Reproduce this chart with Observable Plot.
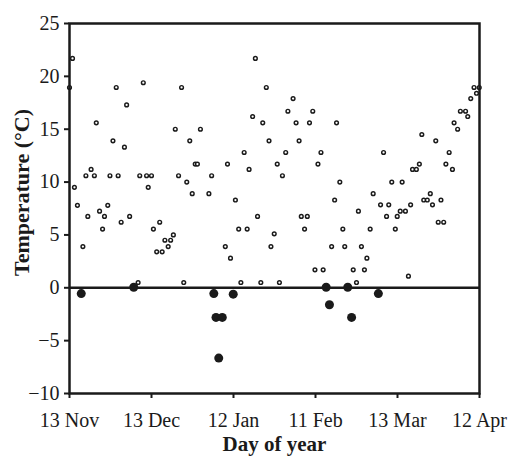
<!DOCTYPE html>
<html>
<head>
<meta charset="utf-8">
<script src="https://cdn.jsdelivr.net/npm/d3@7"></script>
<script src="https://cdn.jsdelivr.net/npm/@observablehq/plot@0.6"></script>
<style>
  html, body { margin: 0; padding: 0; background: white; }
  #chart svg { display: block; }
</style>
</head>
<body>
<div id="chart"></div>
<script>
// Day offsets from 13 Nov (day 0) to 12 Apr (day 150)
const xTickDays = [0, 30, 60, 90, 120, 150];
const xTickLabels = ["13 Nov", "13 Dec", "12 Jan", "11 Feb", "13 Mar", "12 Apr"];
const yTicks = [-10, -5, 0, 5, 10, 15, 20, 25];
const yTickLabels = ["\u221210", "\u22125", "0", "5", "10", "15", "20", "25"];

// Open circles: daily temperatures
const openDays = [
  1.1, 0, 17.1, 27, 20.9, 41, 9.8, 38.7, 47.9, 15.9, 20.1, 44,
  68, 72, 81.8, 79.9, 89, 67, 70.7, 82.9, 87.8, 97.7, 73, 84, 63.9, 79.1, 92,
  114.9, 128.9, 134, 138.9, 140.7, 142, 143, 144.9, 145.7, 146.8, 148, 149.9, 148.9,
  1.8, 2.9, 4.9, 6, 7.9, 9.1, 6.7, 11, 12.8, 14, 12.1, 14.8, 17.8, 18.9, 22,
  25.7, 28.2, 30, 28.8, 30.7, 33, 31.9, 33.9, 34.9, 37, 36.1, 38, 39.9, 42.9,
  44.9, 46, 46.8, 51, 52, 25.1, 41.8,
  57.8, 76, 90.9, 65.7, 77.9, 98.9, 60.7, 97, 105.7, 68.8, 84.8, 87, 61.9, 65,
  86, 100, 74.9, 57, 73.7, 95.9, 100.7, 58.9, 89.8, 92.8, 103.8, 62.7, 70, 76.8, 105,
  125.5, 126.9, 128, 137.7, 140.1, 117.9, 121.7, 111.1, 132, 113.8, 116.8, 124.8,
  129.6, 130.9, 135.9, 132.8, 121, 122.9, 116, 119.9, 134.9, 136.9, 110, 119.2,
  106.8, 108.8, 107.9, 124
];
const openTemps = [
  21.7, 18.95, 18.95, 19.4, 17.3, 18.95, 15.6, 15.0, 15.0, 13.9, 13.3, 13.9,
  21.7, 18.95, 17.9, 16.7, 16.7, 16.2, 15.6, 15.6, 15.6, 15.6, 13.9, 13.9, 12.8, 12.8, 12.8,
  12.8, 14.5, 13.9, 12.8, 15.6, 15.0, 16.7, 16.7, 16.2, 17.9, 18.95, 18.95, 18.4,
  9.5, 7.8, 3.9, 10.6, 11.2, 10.6, 6.75, 7.25, 6.75, 7.8, 5.55, 10.6, 10.6, 6.2, 6.75,
  10.6, 10.6, 10.6, 9.5, 5.55, 6.2, 3.4, 3.4, 4.5, 4.5, 3.9, 5.0, 10.6, 10.0,
  8.9, 11.7, 11.7, 8.9, 10.6, 0.5, 0.5,
  11.7, 11.7, 11.7, 11.2, 10.6, 10.0, 8.3, 8.3, 7.25, 6.75, 6.75, 6.75, 5.55, 5.55,
  5.55, 5.55, 5.1, 3.9, 3.9, 3.9, 3.9, 2.8, 1.7, 1.7, 1.7, 0.5, 0.5, 0.5, 0.5,
  11.2, 11.2, 11.7, 11.7, 11.2, 10.0, 10.0, 8.9, 8.9, 7.85, 7.85, 7.85,
  8.3, 8.3, 8.3, 7.85, 7.25, 7.25, 6.75, 6.75, 6.2, 6.2, 5.55, 5.55,
  3.9, 2.8, 1.7, 1.1
];

// Filled circles: frost (sub-zero / zero) temperatures
const frostDays = [4.3, 23.5, 52.8, 53.6, 55.9, 54.6, 59.9, 93.9, 95.1, 101.8, 103.2, 113];
const frostTemps = [-0.55, 0.05, -0.55, -2.8, -2.8, -6.65, -0.6, 0.05, -1.6, 0.05, -2.8, -0.55];

const openData = openDays.map((d, i) => ({day: d, temp: openTemps[i]}));
const frostData = frostDays.map((d, i) => ({day: d, temp: frostTemps[i]}));

const ink = "#1a1a1a";
const font = "'Liberation Serif', 'Times New Roman', Times, serif";

const chart = Plot.plot({
  width: 514,
  height: 459,
  marginLeft: 69,
  marginRight: 35,
  marginTop: 23,
  marginBottom: 66,
  style: {fontFamily: font, fontSize: "20px", color: ink, background: "white"},
  x: {domain: [0, 150]},
  y: {domain: [-10, 25]},
  marks: [
    Plot.axisX(xTickDays, {
      tickFormat: d => xTickLabels[xTickDays.indexOf(d)],
      tickSize: 5, tickPadding: 14, strokeWidth: 2, label: null, fontSize: 20
    }),
    Plot.axisY(yTicks, {
      tickFormat: d => yTickLabels[yTicks.indexOf(d)],
      tickSize: 5, tickPadding: 5, strokeWidth: 2, label: null, fontSize: 20
    }),
    Plot.ruleY([0], {stroke: ink, strokeWidth: 2.5}),
    Plot.dot(openData, {x: "day", y: "temp", r: 1.85, fill: "white", stroke: ink, strokeWidth: 1.45}),
    Plot.dot(frostData, {x: "day", y: "temp", r: 4.5, fill: ink, stroke: "none"}),
    Plot.frame({stroke: ink, strokeWidth: 2.5}),
    Plot.text(["Temperature (\u00B0C)"], {
      frameAnchor: "left", rotate: -90, textAnchor: "middle", lineAnchor: "middle",
      dx: -47.5, dy: -16, fontWeight: "bold", fontSize: 22, fill: ink
    }),
    Plot.text(["Day of year"], {
      frameAnchor: "bottom", textAnchor: "middle", lineAnchor: "middle",
      dy: 51, fontWeight: "bold", fontSize: 21, fill: ink
    })
  ]
});

document.getElementById("chart").appendChild(chart);
</script>
</body>
</html>
